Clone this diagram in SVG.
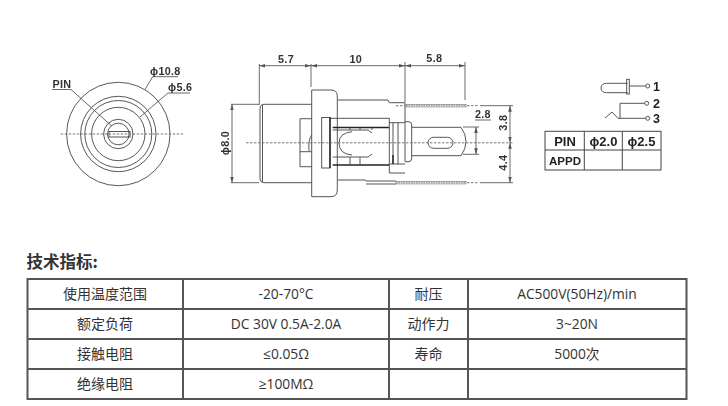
<svg xmlns="http://www.w3.org/2000/svg" width="728" height="406" viewBox="0 0 728 406">
<defs>
<marker id="a" viewBox="0 0 6 6" refX="6" refY="3" markerWidth="6" markerHeight="6" orient="auto-start-reverse" markerUnits="userSpaceOnUse"><path d="M0 1.2L6 3L0 4.8z" fill="#555"/></marker>
<filter id="soft" x="-5%" y="-5%" width="110%" height="110%"><feGaussianBlur stdDeviation="0.35"/></filter>
</defs>
<style>
.draw{filter:url(#soft)}
.l{fill:none;stroke:#444;stroke-width:.9}
.m{fill:none;stroke:#222;stroke-width:1.4}
.c{fill:none;stroke:#666;stroke-width:.9;stroke-dasharray:2.5 1.5}
.p{fill:none;stroke:#888;stroke-width:1;stroke-dasharray:1.5 1}
.d{fill:none;stroke:#444;stroke-width:.8}
.da{fill:none;stroke:#444;stroke-width:.8;marker-start:url(#a);marker-end:url(#a)}
.t{font-family:"Liberation Sans",Arial,sans-serif;font-weight:700;font-size:10.8px;fill:#333;letter-spacing:.3px}
.mid{text-anchor:middle}
.b{font-family:"Liberation Sans",Arial,sans-serif;font-weight:700;fill:#222}
.g{fill:none;stroke:#555;stroke-width:2}
.s{fill:none;stroke:#444;stroke-width:1}
.k{font-family:"Open Sans","Noto Sans CJK SC",sans-serif;font-size:13.8px;fill:#333;text-anchor:middle}
.z{font-size:14px}
.h{font-family:"Noto Sans CJK SC",sans-serif;font-size:16.5px;font-weight:700;fill:#333}
</style>
<g id="front-view" class="draw">
<circle class="l" cx="118.3" cy="134" r="51.7"/>
<circle class="l" cx="118.3" cy="134" r="37.7"/>
<circle class="l" cx="118.3" cy="134" r="33.5"/>
<circle class="l" cx="118.3" cy="134" r="26.7"/>
<circle class="l" cx="118.3" cy="134" r="14.7"/>
<circle class="l" cx="118.3" cy="134" r="10.8"/>
<rect class="l" x="109" y="131.5" width="21" height="5.5"/>
<path class="c" d="M60.7 134H183"/>
<path class="d" d="M52 89.5H71L111.7 126M152.7 76.7H178M152.7 76.7L145 89.5M168 93H190M168 93L140 117"/>
<text class="t" x="52.5" y="87.5">PIN</text>
<text class="t" x="150" y="74.5">ϕ10.8</text>
<text class="t" x="168" y="91">ϕ5.6</text>
</g>
<g id="side-view" class="draw">
<path class="l" d="M311.7 104.3H264Q260 104.3 260 109V178Q260 182.7 264 182.7H311.7"/>
<path class="l" d="M262.5 105V182"/>
<path class="l" d="M311.7 90H331Q337.3 90 337.3 96V190Q337.3 196.7 331 196.7H311.7Z"/>
<path class="l" d="M300 118.7H311.7M300 118.7V166.7H311.7M300 151.7H311.7M311.7 135Q308 140 309 151"/>
<rect class="l" x="321.7" y="117.5" width="8.3" height="50.5"/>
<path class="m" d="M330 117V168"/>
<path class="l" d="M338 100H388L389.3 102.7H405M330 118.3H389.3V173H405M338 180H365L366 181H396M366 184H396"/>
<path class="m" d="M332.7 127.5H389M332.7 165H389"/>
<path class="l" d="M332.7 130H368L372 133M332.7 157H368L372 154M352 131.7Q339 133 339 143Q339 154 352 155M372 127.5V130M350 127.5V130M360 127.5V130M350 157V165M360 157V165"/>
<path class="l" d="M393 122.7V164M398 122.7V164M389.3 122.7H405M389.3 164H405"/>
<path class="m" d="M393 155V164"/>
<path class="l" d="M405 121.7H409Q411.7 122 411.7 125V158Q411.7 161.7 409 161.7H405V102.7"/>
<path class="l" d="M411.7 127.3H461Q466 134 466 141.5Q466 149 461 155.7H411.7"/>
<rect class="l" x="428" y="137.3" width="25" height="11" rx="5.5"/>
<path class="c" d="M246 142.8H513"/>
<rect x="406" y="104.5" width="60" height="2.4" fill="none" stroke="#777" stroke-width=".7"/>
<path class="p" d="M406 105.7H466"/>
<rect x="396" y="181.5" width="70" height="2.4" fill="none" stroke="#777" stroke-width=".7"/>
<path class="p" d="M396 182.7H466"/>
<path class="c" d="M396 105.7H405M467 105.7H478M467 182.7H478"/>
</g>
<g id="dimensions" class="draw">
<path class="d" d="M259.3 64V105M311 64V87M405 62V102M465 62V100M480 105.7H513M480 182.7H513M463 127H479M463 154.3H479"/>
<path class="da" d="M259.3 65.7H311"/>
<path class="da" d="M311 65.7H405"/>
<path class="da" d="M405 65.7H465"/>
<path class="da" d="M232 104.3V182.7"/>
<path class="d" d="M231 104.3H259M231 182.7H259"/>
<path class="da" d="M510 105.7V142.7"/>
<path class="da" d="M510 142.7V182.7"/>
<path class="da" d="M476 127V154.3"/>
<path class="d" d="M475 120H491"/>
<text class="t mid" x="286" y="63">5.7</text>
<text class="t mid" x="355.7" y="63">10</text>
<text class="t mid" x="434.3" y="62">5.8</text>
<text class="t" x="475" y="118">2.8</text>
<text class="t mid" transform="translate(229 143) rotate(-90)">ϕ8.0</text>
<text class="t mid" transform="translate(507 122.7) rotate(-90)">3.8</text>
<text class="t mid" transform="translate(507 162.7) rotate(-90)">4.4</text>
</g>
<g id="pin-symbol" class="draw">
<path class="l" d="M627.7 83.3H606.7Q601 83.5 601 88Q601 92.5 606.7 92.7H627.7"/>
<rect class="l" x="626.7" y="79.3" width="2.6" height="14.7"/>
<path class="l" d="M629.3 86H645.7M620 119V103.3H644.7M605 118L612 112L618 118.3H645.7"/>
<circle class="l" cx="647.7" cy="86" r="2"/>
<circle class="l" cx="646.7" cy="103.3" r="2"/>
<circle class="l" cx="647.7" cy="118.3" r="2"/>
<text class="b" x="653" y="91" font-size="12.5">1</text>
<text class="b" x="653" y="108" font-size="12.5">2</text>
<text class="b" x="653" y="122.5" font-size="12.5">3</text>
</g>
<g id="pin-table" class="draw">
<rect class="s" x="545" y="131.3" width="116" height="38.7"/>
<path class="s" d="M545 150H661M584.3 131.3V170M622.3 131.3V170"/>
<text class="b mid" x="565" y="145.5" font-size="13">PIN</text>
<text class="b mid" x="603.5" y="145.5" font-size="13">ϕ2.0</text>
<text class="b mid" x="641.5" y="145.5" font-size="13">ϕ2.5</text>
<text class="b mid" x="565" y="165" font-size="11.5">APPD</text>
</g>
<g id="spec-table">
<text class="h" x="26.5" y="268">技术指标:</text>
<rect class="g" x="27.5" y="279" width="659" height="120"/>
<path class="g" d="M27.5 309H686.5M27.5 339H686.5M27.5 369H686.5M183 279V399M389 279V399M468 279V399"/>
<text class="k z" x="105" y="299">使用温度范围</text>
<text class="k" x="286" y="299">-20-70°C</text>
<text class="k z" x="428.5" y="299">耐压</text>
<text class="k" x="577" y="299">AC500V(50Hz)/min</text>
<text class="k z" x="105" y="329">额定负荷</text>
<text class="k" x="286" y="329">DC 30V 0.5A-2.0A</text>
<text class="k z" x="428.5" y="329">动作力</text>
<text class="k" x="577" y="329">3~20N</text>
<text class="k z" x="105" y="359">接触电阻</text>
<text class="k" x="286" y="359">≤0.05Ω</text>
<text class="k z" x="428.5" y="359">寿命</text>
<text class="k" x="577" y="359">5000次</text>
<text class="k z" x="105" y="389">绝缘电阻</text>
<text class="k" x="286" y="389">≥100MΩ</text>
</g>
</svg>
